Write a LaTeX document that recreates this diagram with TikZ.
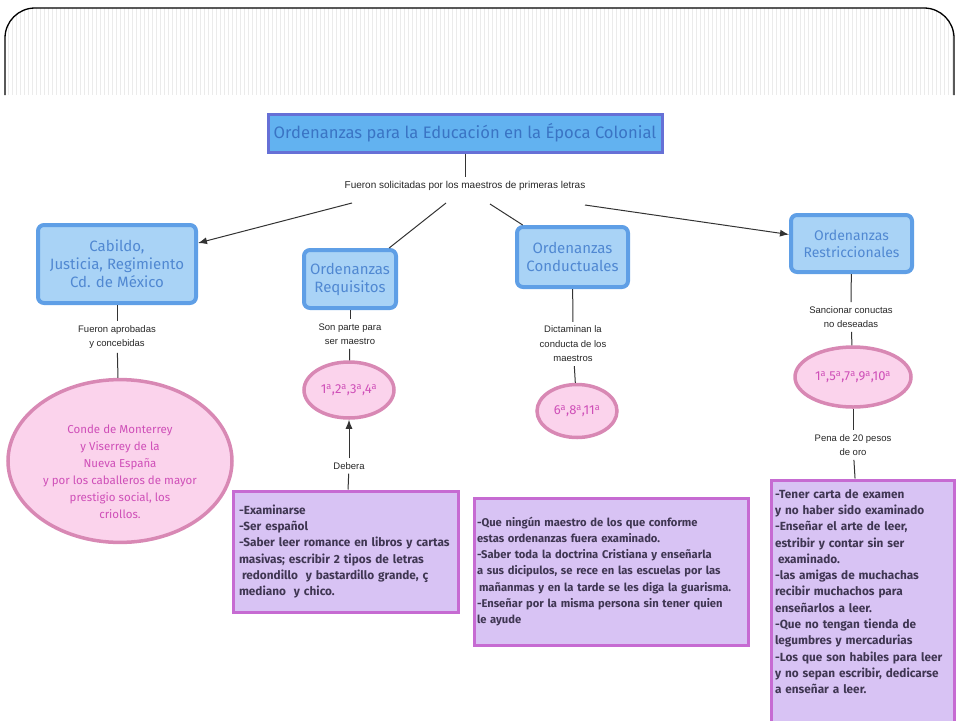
\documentclass[tikz,border=0pt]{standalone}
\usepackage{fontspec}
\setmainfont{Liberation Sans}
\newfontfamily\bxf{Fira Sans}
\usetikzlibrary{shapes.geometric,arrows.meta}
\definecolor{bfill}{HTML}{A9D3F6}
\definecolor{bdraw}{HTML}{5F9FE6}
\definecolor{btext}{HTML}{5088D2}
\definecolor{tfill}{HTML}{62B2F0}
\definecolor{tdraw}{HTML}{6670D6}
\definecolor{ttext}{HTML}{3A74C4}
\definecolor{efill}{HTML}{FBD3EC}
\definecolor{edraw}{HTML}{D888B4}
\definecolor{etext}{HTML}{CF4FB8}
\definecolor{pfill}{HTML}{D8C3F4}
\definecolor{pdraw}{HTML}{C66BD2}
\definecolor{ptext}{HTML}{3F3652}
\definecolor{lk}{HTML}{333333}
\newcommand{\ord}{\textsuperscript{a}}
\hyphenpenalty=10000
\begin{document}
\begin{tikzpicture}[x=1pt,y=-1pt,
  bluebox/.style={draw=bdraw, fill=bfill, line width=4pt, rounded corners=6pt, text=btext,
    font=\bxf\fontsize{15}{18}\selectfont, align=center, inner sep=0pt},
  titlebox/.style={draw=tdraw, fill=tfill, line width=3pt, text=ttext,
    font=\bxf\fontsize{16.6}{18}\selectfont, inner sep=0pt},
  pinkell/.style={ellipse, draw=edraw, fill=efill, line width=3.5pt, text=etext,
    font=\bxf\fontsize{13}{16}\selectfont, align=center, inner sep=0pt},
  pbox/.style={draw=pdraw, fill=pfill, line width=3pt, text=ptext,
    font=\bxf\bfseries\fontsize{11.8}{16.3}\selectfont, align=left, inner sep=0pt},
  lbl/.style={font=\fontsize{9.5}{14.5}\selectfont, align=center, inner sep=4pt, text=black!85},
  link/.style={draw=lk, line width=1pt},
  arr/.style={link, -{Latex[length=9pt,width=7pt]}}
]
\useasboundingbox (0,0) rectangle (960,720);
% slide frame
\begin{scope}
  \path[clip, rounded corners=30pt] (5,140) -- (5,8) -- (954,8) -- (954,140) -- cycle;
  \foreach \x in {8,12,...,952} \draw[gray!16, line width=1pt] (\x,8) -- (\x,95);
\end{scope}
\draw[black, line width=1.3pt, rounded corners=30pt] (5,95) -- (5,8) -- (954,8) -- (954,95);

% title
\node[titlebox, minimum width=394pt, minimum height=38pt] (title) at (465,133)
  {Ordenanzas para la Educación en la Época Colonial};
\node[lbl, font=\fontsize{10}{14.5}\selectfont] (sol) at (465,186) {Fueron solicitadas por los maestros de primeras letras};
\draw[link] (title) -- (sol);
\coordinate (s1) at (352,203);
\coordinate (s2) at (446,203);
\coordinate (s3) at (490,204);
\coordinate (s4) at (585,205);

% Cabildo branch
\node[bluebox, minimum width=158pt, minimum height=78pt] (cab) at (117,264)
  {Cabildo,\\Justicia, Regimiento\\Cd. de México};
\node[lbl] (l1) at (117,337) {Fueron aprobadas\\y concebidas};
\node[pinkell, minimum width=224pt, minimum height=142pt,
  font=\bxf\fontsize{11.5}{17}\selectfont] (conde) at (120,461)
  {\rule{0pt}{30pt}Conde de Monterrey\\y Viserrey de la\\Nueva España\\y por los caballeros de mayor\\prestigio social, los\\criollos.};
\draw[arr] (s1) -- (cab);
\draw[link] (cab) -- (l1);
\draw[link] (l1) -- (conde);

% Requisitos branch
\node[bluebox, minimum width=92pt, minimum height=58pt] (req) at (350,279) {Ordenanzas\\Requisitos};
\node[lbl] (l2) at (350,334) {Son parte para\\ser maestro};
\node[pinkell, minimum width=90pt, minimum height=56pt] (e1) at (349,390) {1\ord,2\ord,3\ord,4\ord};
\node[lbl] (deb) at (349,466) {Debera};
\node[pbox, minimum width=225pt, minimum height=121pt, text width=213pt] (p1) at (345.5,551.5)
  {-Examinarse\\-Ser español\\-Saber leer romance en libros y cartas\\masivas; escribir 2 tipos de letras\\\hspace*{3pt}redondillo\ \ y bastardillo grande, ç\\mediano\ \ y chico.};
\draw[link] (s2) -- (req);
\draw[link] (req) -- (l2);
\draw[link] (l2) -- (e1);
\draw[link] (p1) -- (deb);
\draw[arr] (deb) -- (e1);

% Conductuales branch
\node[bluebox, minimum width=111pt, minimum height=60pt] (con) at (572.5,257) {Ordenanzas\\Conductuales};
\node[lbl] (l3) at (573,344) {Dictaminan la\\conducta de los\\maestros};
\node[pinkell, minimum width=80pt, minimum height=53pt] (e2) at (577,411) {6\ord,8\ord,11\ord};
\node[pbox, minimum width=274pt, minimum height=147pt, text width=268pt,
  font=\bxf\bfseries\fontsize{11.2}{16.3}\selectfont] (p2) at (611,571.5)
  {-Que ningún maestro de los que conforme\\estas ordenanzas fuera examinado.\\-Saber toda la doctrina Cristiana y enseñarla\\a sus dicipulos, se rece en las escuelas por las\\\hspace*{2pt}mañanmas y en la tarde se les diga la guarisma.\\-Enseñar por la misma persona sin tener quien\\le ayude};
\draw[link] (s3) -- (con);
\draw[link] (con) -- (l3);
\draw[link] (l3) -- (e2);

% Restriccionales branch
\node[bluebox, minimum width=121pt, minimum height=57pt, font=\bxf\fontsize{14}{17}\selectfont] (res) at (851.5,243.5) {Ordenanzas\\Restriccionales};
\node[lbl] (l4) at (851,317) {Sancionar conuctas\\no deseadas};
\node[pinkell, minimum width=116pt, minimum height=60pt] (e3) at (853,377) {1\ord,5\ord,7\ord,9\ord,10\ord};
\node[lbl] (l5) at (853,445) {Pena de 20 pesos\\de oro};
\node[pbox, minimum width=183pt, minimum height=242pt, text width=175pt] (p3) at (862.5,601)
  {-Tener carta de examen\\y no haber sido examinado\\-Enseñar el arte de leer,\\estribir y contar sin ser\\\hspace*{3pt}examinado.\\-las amigas de muchachas\\recibir muchachos para\\enseñarlos a leer.\\-Que no tengan tienda de\\legumbres y mercadurias\\-Los que son habiles para leer\\y no sepan escribir, dedicarse\\a enseñar a leer.\rule[-19pt]{0pt}{0pt}};
\draw[arr] (s4) -- (res);
\draw[link] (res) -- (l4);
\draw[link] (l4) -- (e3);
\draw[link] (e3) -- (l5);
\draw[link] (l5) -- (p3);
\end{tikzpicture}
\end{document}
